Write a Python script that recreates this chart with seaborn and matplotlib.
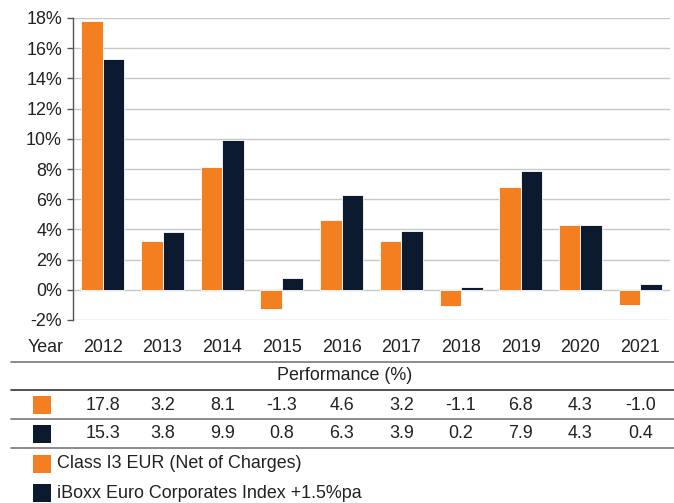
import matplotlib
matplotlib.use("Agg")
import matplotlib.pyplot as plt
import matplotlib.transforms as mtransforms
from matplotlib.patches import Rectangle
from matplotlib.lines import Line2D
import seaborn as sns
import pandas as pd

years = ["2012", "2013", "2014", "2015", "2016", "2017", "2018", "2019", "2020", "2021"]
class_i3 = [17.8, 3.2, 8.1, -1.3, 4.6, 3.2, -1.1, 6.8, 4.3, -1.0]
iboxx = [15.3, 3.8, 9.9, 0.8, 6.3, 3.9, 0.2, 7.9, 4.3, 0.4]
series_names = ["Class I3 EUR (Net of Charges)", "iBoxx Euro Corporates Index +1.5%pa"]
y_ticks = [-2, 0, 2, 4, 6, 8, 10, 12, 14, 16, 18]
colors = ["#F47F20", "#0B1A2E"]

df = pd.DataFrame({
    "Year": years * 2,
    "Value": class_i3 + iboxx,
    "Series": [series_names[0]] * len(years) + [series_names[1]] * len(years),
})

sns.set_theme(style="white")
plt.rcParams["font.family"] = ["Liberation Sans", "DejaVu Sans"]
FS = 12.9
TXT = "#222222"

W, H = 674, 503
fig = plt.figure(figsize=(W / 100, H / 100), dpi=100)

def fy(py):
    return 1 - py / H

def fx(px):
    return px / W

ax = fig.add_axes([fx(73), fy(320), fx(670) - fx(73), fy(18) - fy(320)])
sns.barplot(data=df, x="Year", y="Value", hue="Series", palette=colors,
            saturation=1, width=0.72, ax=ax, edgecolor="white", linewidth=0.6,
            legend=False, zorder=3)
ax.set_ylim(-2, 18)
ax.set_xlim(-0.5, len(years) - 0.5)
ax.set_yticks(y_ticks)
ax.set_yticklabels([f"{t}%" for t in y_ticks], fontsize=FS, color=TXT)
ax.set_xticks([])
ax.set_xlabel("")
ax.set_ylabel("")
ax.grid(axis="y", color="#C8C8C8", linewidth=1.0, zorder=0)
ax.set_axisbelow(True)
for s in ["top", "right", "bottom"]:
    ax.spines[s].set_visible(False)
ax.spines["left"].set_color("#555555")
ax.spines["left"].set_linewidth(1.0)
ax.tick_params(axis="y", left=True, length=4, width=1, color="#555555", pad=4)

# Table below
trans = mtransforms.blended_transform_factory(ax.transData, fig.transFigure)

fig.text(fx(46), fy(347), "Year", ha="center", va="center", fontsize=FS, color=TXT)
for i, y in enumerate(years):
    fig.text(i, fy(347), y, ha="center", va="center", fontsize=FS, color=TXT, transform=trans)

fig.text(fx(345), fy(376), "Performance (%)", ha="center", va="center", fontsize=FS, color=TXT)

for i, v in enumerate(class_i3):
    fig.text(i, fy(405), f"{v:.1f}", ha="center", va="center", fontsize=FS, color=TXT, transform=trans)
for i, v in enumerate(iboxx):
    fig.text(i, fy(434), f"{v:.1f}", ha="center", va="center", fontsize=FS, color=TXT, transform=trans)

for py, col in [(362, "#777777"), (390, "#333333"), (419, "#777777"), (448, "#777777")]:
    fig.add_artist(Line2D([fx(11), 1.0], [fy(py), fy(py)], color=col, linewidth=1.2,
                          transform=fig.transFigure))

def square(px, py_top, color):
    fig.add_artist(Rectangle((fx(px), fy(py_top + 18)), fx(18), 18 / H,
                             facecolor=color, edgecolor="none", transform=fig.transFigure))

square(33, 396, colors[0])
square(33, 425, colors[1])
square(33, 455, colors[0])
square(33, 484, colors[1])

fig.text(fx(57), fy(464), series_names[0], ha="left", va="center", fontsize=FS, color=TXT)
fig.text(fx(57), fy(494), series_names[1], ha="left", va="center", fontsize=FS, color=TXT)

fig.savefig("out.png", dpi=100, facecolor="white")
